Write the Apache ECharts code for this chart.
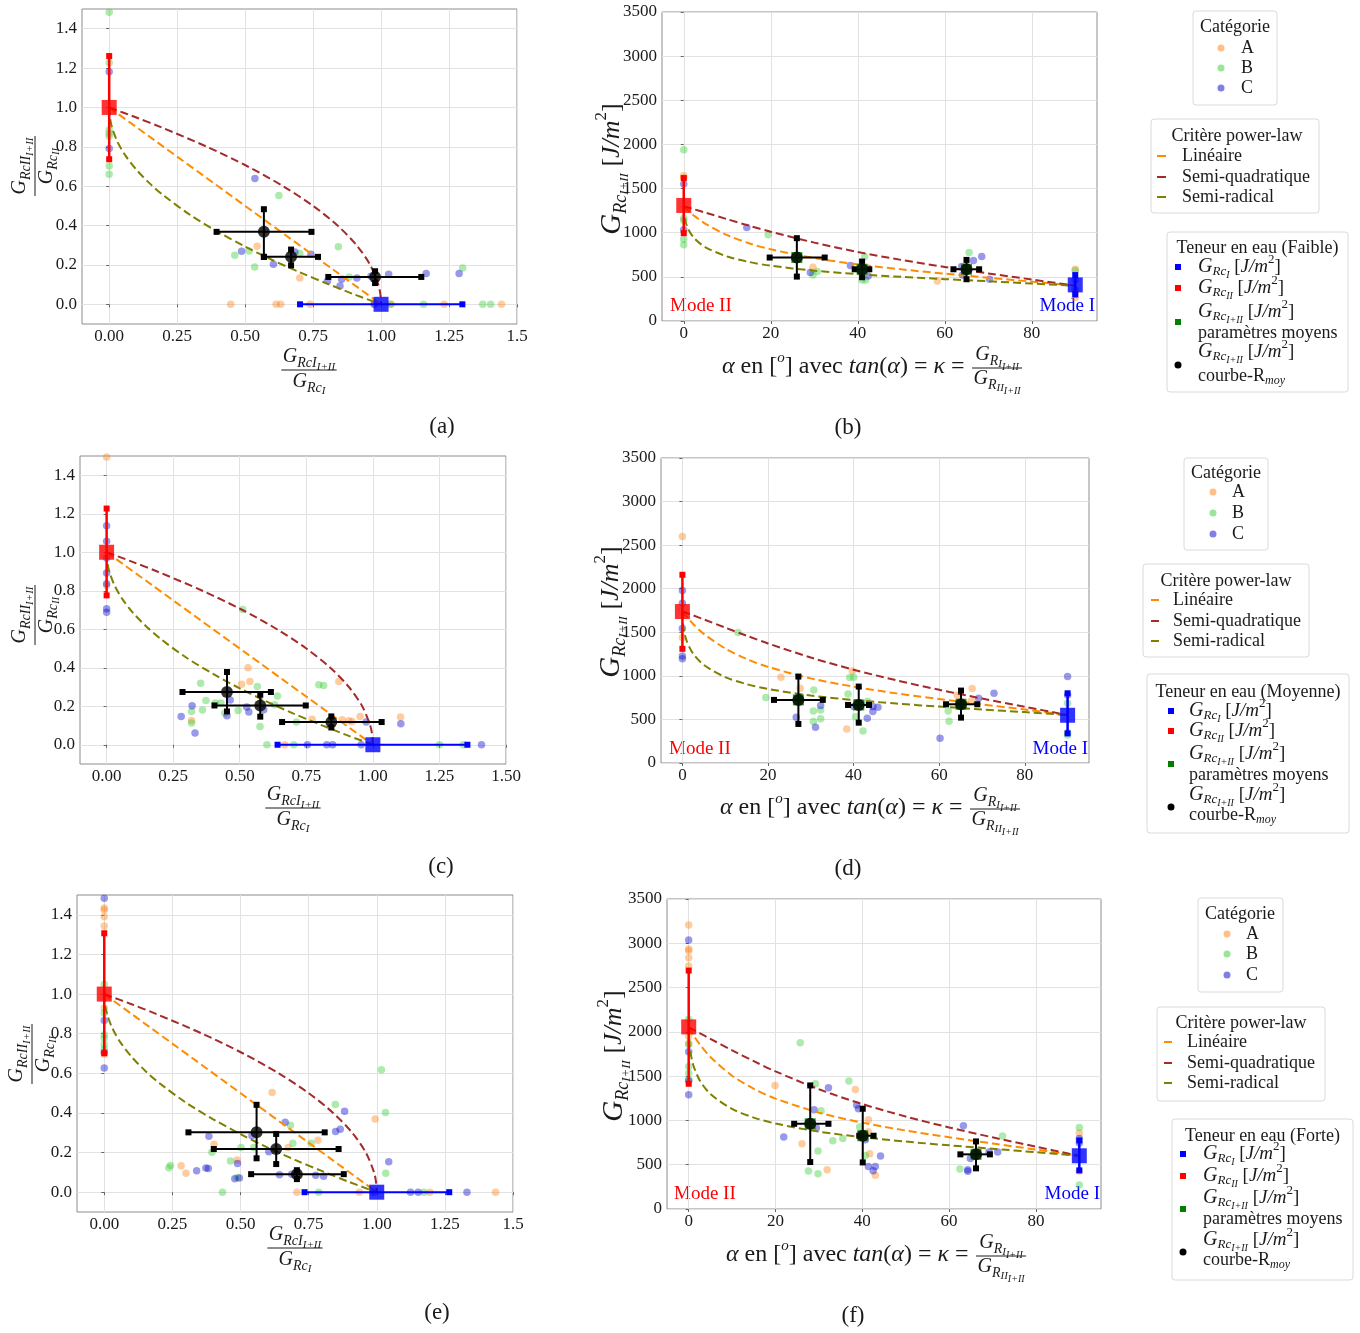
<!DOCTYPE html>
<html><head><meta charset="utf-8">
<script src="https://cdn.jsdelivr.net/npm/echarts@6/dist/echarts.min.js"></script>
<style>html,body{margin:0;padding:0;background:#fff}#c{width:1360px;height:1333px}</style>
</head><body><div id="c"></div>
<script>
// ---------------- DATA ----------------
// tick values / labels
const XTV_R = [0, 0.25, 0.5, 0.75, 1, 1.25, 1.5];
const XTL_a = ['0.00','0.25','0.50','0.75','1.00','1.25','1.5'];
const XTL_c = ['0.00','0.25','0.50','0.75','1.00','1.25','1.50'];
const XTL_e = ['0.00','0.25','0.50','0.75','1.00','1.25','1.5'];
const YTV_R = [0, 0.2, 0.4, 0.6, 0.8, 1.0, 1.2, 1.4];
const YTL_R = ['0.0','0.2','0.4','0.6','0.8','1.0','1.2','1.4'];
const XTV_A = [0, 20, 40, 60, 80];
const XTL_A = ['0','20','40','60','80'];
const YTV_A = [0, 500, 1000, 1500, 2000, 2500, 3000, 3500];
const YTL_A = ['0','500','1000','1500','2000','2500','3000','3500'];

// criterion curves, normalised plane
const LIN_R = [[0,1],[1,0]];
const SQ_R = [[0,1],[0.0975,0.95],[0.19,0.9],[0.36,0.8],[0.51,0.7],[0.64,0.6],[0.75,0.5],[0.84,0.4],[0.91,0.3],[0.96,0.2],[0.99,0.1],[0.9975,0.05],[1,0]];
const RAD_R = [[0,1],[0.002,0.955],[0.01,0.9],[0.03,0.827],[0.06,0.755],[0.1,0.684],[0.15,0.613],[0.2,0.553],[0.3,0.452],[0.4,0.368],[0.5,0.293],[0.6,0.225],[0.7,0.163],[0.8,0.106],[0.9,0.051],[1,0]];

// criterion curves vs alpha
const ALPHA = [0,0.25,1,2.5,5,10,15,20,30,40,50,60,70,80,90];
const LIN_b = [1300,1287,1252,1188,1101,972,881,812,713,641,585,536,491,446,400];
const SQ_b  = [1300,1297,1286,1264,1227,1153,1080,1011,888,782,692,612,539,470,400];
const RAD_b = [1300,1159,1043,933,835,730,669,626,570,531,500,474,450,424,400];
const LIN_d = [1740,1724,1678,1596,1482,1314,1194,1103,971,876,799,734,673,613,550];
const SQ_d  = [1740,1736,1722,1695,1648,1554,1461,1372,1210,1071,949,840,740,645,550];
const RAD_d = [1740,1554,1400,1255,1125,986,905,850,774,723,682,647,615,584,550];
const LIN_f = [2050,2029,1968,1862,1716,1505,1357,1246,1088,975,886,810,740,671,600];
const SQ_f  = [2050,2044,2025,1986,1921,1792,1669,1554,1352,1185,1044,921,809,704,600];
const RAD_f = [2050,1822,1635,1457,1299,1130,1032,965,873,811,761,719,680,641,600];

// mean points: [x, y, xlo, xhi, ylo, yhi]
const MEAN_a = [[0.569,0.368,0.395,0.744,0.241,0.483],[0.669,0.241,0.569,0.768,0.198,0.278],[0.978,0.139,0.806,1.148,0.108,0.168]];
const MEAN_c = [[0.452,0.274,0.285,0.617,0.173,0.378],[0.577,0.204,0.405,0.748,0.146,0.26],[0.844,0.118,0.659,1.033,0.09,0.147]];
const MEAN_e = [[0.559,0.302,0.309,0.809,0.171,0.441],[0.631,0.218,0.402,0.86,0.142,0.294],[0.707,0.091,0.539,0.879,0.066,0.111]];
const MEAN_b = [[26.0,719,19.75,32.4,503,938],[41.0,586,39.3,42.65,496,673],[65.0,586,62.0,67.9,473,692]];
const MEAN_d = [[27.1,724,21.4,32.8,448,992],[41.2,666,38.7,43.6,463,877],[65.1,674,61.6,68.9,521,831]];
const MEAN_f = [[28.0,962,24.3,32.2,530,1395],[40.1,827,39.3,42.6,526,1132],[66.2,617,62.6,69.4,459,763]];
// mode II (red) : [x, y, lo, hi] ; mode I (blue) : [x, y, lo, hi]
const RED_a = [0,1,0.737,1.261], BLUE_a = [1,0,0.702,1.299];
const RED_c = [0,1,0.776,1.227], BLUE_c = [1,0,0.642,1.355];
const RED_e = [0,1,0.701,1.307], BLUE_e = [1,0,0.735,1.266];
const RED_b = [0,1309,995,1619], BLUE_b = [90,409,300,520];
const RED_d = [0,1738,1310,2160], BLUE_d = [90,548,340,800];
const RED_f = [0,2056,1414,2692], BLUE_f = [90,601,436,774];

// individual specimens
const A_a = [[0.544,0.295],[0.701,0.134],[0.447,0],[0.614,0],[0.631,0],[0.739,0],[0.975,0],[1.037,0],[1.232,0],[1.443,0]];
const B_a = [[0,1.483],[0,1.227],[0,0.885],[0,0.868],[0,0.854],[0,0.703],[0,0.661],[0.624,0.553],[0.843,0.293],[0.462,0.249],[0.515,0.271],[0.535,0.19],[0.701,0.258],[0.883,0.139],[1.034,0],[1.156,0],[1.374,0],[1.403,0],[1.3,0.185]];
const C_a = [[0,1.181],[0,0.792],[0.536,0.639],[0.487,0.269],[0.604,0.203],[0.683,0.266],[0.742,0.254],[0.803,0.119],[0.849,0.093],[0.855,0.127],[0.911,0.134],[0.963,0.142],[1.028,0.153],[1.166,0.156],[1.287,0.156],[0.975,0]];
const A_b = [[0,1646],[0,1619],[29.7,609],[58.3,454],[90,586],[90,265],[90,314]];
const B_b = [[0,1941],[0,1139],[0,1165],[0,927],[0,863],[19.4,976],[29.7,522],[30.7,560],[41.6,730],[41.0,465],[41.8,465],[65.6,776],[90,571]];
const C_b = [[0,1551],[0,1033],[14.5,1059],[29.1,549],[38.3,628],[42.4,511],[63.9,617],[64.1,522],[66.6,685],[68.5,730],[70.3,473],[90,465],[90,352]];
const A_c = [[0,1.495],[0,0.827],[0.531,0.4],[0.538,0.328],[0.507,0.314],[0.319,0.126],[0.772,0.133],[0.872,0.329],[0.885,0.13],[0.922,0.121],[0.952,0.147],[1.104,0.144],[0.669,0],[0.91,0.125]];
const B_c = [[0.511,0.702],[0.797,0.312],[0.815,0.308],[0.353,0.319],[0.373,0.23],[0.36,0.18],[0.319,0.173],[0.319,0.113],[0.408,0.217],[0.429,0.217],[0.444,0.165],[0.494,0.178],[0.566,0.302],[0.642,0.253],[0.631,0.208],[0.576,0.095],[0.713,0.118],[0.602,0],[0.703,0],[1.25,0],[1.34,0]];
const C_c = [[0,1.138],[0,1.057],[0,0.97],[0,0.892],[0,0.837],[0,0.707],[0,0.688],[0.28,0.147],[0.321,0.203],[0.332,0.061],[0.464,0.232],[0.452,0.151],[0.526,0.196],[0.534,0.17],[0.59,0.182],[0.754,0],[0.827,0],[0.849,0],[0.956,0],[0.975,0.118],[1.105,0.109],[1.408,0]];
const A_d = [[0,2600],[0,1440],[23,984],[27.5,858],[39.7,1057],[38.4,391],[67.7,854],[64.2,777],[67.5,712]];
const B_d = [[13,1497],[19.5,751],[30.7,839],[30.6,597],[30.6,475],[32.3,609],[32.3,509],[39.1,980],[40,984],[38.7,793],[43.3,708],[40.5,532],[42.2,368],[62.1,597],[62.3,479],[90,348],[90,322],[90,685]];
const C_d = [[0,1980],[0,1834],[0,1543],[0,1229],[0,1195],[26.6,525],[32.3,659],[31.1,410],[40.1,647],[43.2,513],[44.5,647],[44.5,590],[45.7,640],[60.2,283],[69.2,743],[72.8,800],[90,992],[90,781]];
const A_e = [[0,1.434],[0,1.424],[0,1.39],[0,1.343],[0,0.698],[0,0.93],[0.616,0.503],[0.994,0.37],[0.784,0.262],[0.403,0.242],[0.282,0.133],[0.3,0.095],[0.488,0.162],[0.675,0.226],[0.707,0],[0.936,0],[1.195,0],[1.436,0]];
const B_e = [[0,1.049],[0,0.905],[0,0.795],[0,0.777],[0,0.746],[0,0.723],[1.017,0.618],[0.848,0.443],[1.032,0.402],[1.033,0.095],[0.683,0.338],[0.692,0.247],[0.759,0.247],[0.502,0.226],[0.549,0.226],[0.395,0.201],[0.463,0.157],[0.243,0.135],[0.237,0.123],[0.488,0.074],[0.434,0],[0.787,0],[1.173,0]];
const C_e = [[0,1.483],[0,0.866],[0,0.706],[0,0.627],[0.882,0.409],[0.866,0.318],[0.849,0.306],[0.664,0.353],[0.384,0.282],[0.542,0.285],[0.604,0.204],[1.044,0.154],[0.339,0.108],[0.373,0.122],[0.382,0.12],[0.489,0.145],[0.479,0.068],[0.496,0.071],[0.643,0.088],[0.688,0.091],[0.776,0.086],[0.805,0.081],[1.124,0],[1.152,0],[1.331,0],[0.987,0]];
const A_f = [[0,3207],[0,2936],[0,2917],[0,2838],[0,2744],[0,1947],[0,1872],[19.9,1395],[26.1,737],[31.9,444],[38.4,1350],[41.4,1008],[41.4,872],[41.7,624],[43,380],[90,857],[90,425]];
const B_f = [[0,2143],[0,1857],[0,1609],[0,1534],[0,1459],[25.7,1876],[29.2,1414],[30.5,1109],[29.8,654],[27.6,429],[29.8,398],[33.2,771],[35.5,797],[36.9,1444],[39.4,925],[40.7,605],[62.5,451],[72.3,823],[90,921],[90,271]];
const C_f = [[0,3038],[0,1774],[0,1447],[0,1289],[21.9,812],[28.9,1120],[29.4,914],[32.2,1368],[38.7,1173],[39.1,1132],[40.7,782],[41.4,481],[42.5,432],[43,481],[44.2,598],[63.3,940],[64.3,444],[64.3,425],[64.9,571],[69.2,643],[71.2,643],[90,797],[90,744]];

const MODE_LABELS = ['Mode II', 'Mode I'];
const LEGEND_TITLES = ['Teneur en eau (Faible)', 'Teneur en eau (Moyenne)', 'Teneur en eau (Forte)'];
const PANEL_TAGS = ['(a)','(b)','(c)','(d)','(e)','(f)'];

// ---------------- STYLE / LAYOUT ----------------
const FF = 'Liberation Serif';
const TXT = '#1a1a1a';
const COL_A = 'rgba(255,127,14,0.5)', COL_B = 'rgba(50,205,50,0.5)', COL_C = 'rgba(0,0,205,0.5)';
const COL_LIN = '#ff8c00', COL_SQ = '#a52a2a', COL_RAD = '#808000';

const GRIDS = [
  {left:82, top:9, width:435, height:315},
  {left:662, top:12, width:435, height:309},
  {left:80, top:456, width:426, height:308},
  {left:661, top:458, width:428, height:305},
  {left:77, top:895, width:436, height:317},
  {left:667, top:899, width:434, height:310}
];

const zip = (xs, ys) => xs.map((x, i) => [x, ys[i]]);
const PANELS = [
  {kind:'R', A:A_a, B:B_a, C:C_a, mean:MEAN_a, red:RED_a, blue:BLUE_a, xl:XTL_a},
  {kind:'A', A:A_b, B:B_b, C:C_b, mean:MEAN_b, red:RED_b, blue:BLUE_b, lin:LIN_b, sq:SQ_b, rad:RAD_b},
  {kind:'R', A:A_c, B:B_c, C:C_c, mean:MEAN_c, red:RED_c, blue:BLUE_c, xl:XTL_c},
  {kind:'A', A:A_d, B:B_d, C:C_d, mean:MEAN_d, red:RED_d, blue:BLUE_d, lin:LIN_d, sq:SQ_d, rad:RAD_d},
  {kind:'R', A:A_e, B:B_e, C:C_e, mean:MEAN_e, red:RED_e, blue:BLUE_e, xl:XTL_e},
  {kind:'A', A:A_f, B:B_f, C:C_f, mean:MEAN_f, red:RED_f, blue:BLUE_f, lin:LIN_f, sq:SQ_f, rad:RAD_f}
];

function lab(vals, labels) {
  return v => { const k = vals.findIndex(t => Math.abs(t - v) < 1e-9); return k >= 0 ? labels[k] : ''; };
}
const grid = [], xAxis = [], yAxis = [], series = [];
PANELS.forEach((p, i) => {
  grid.push(Object.assign({show:true, borderColor:'#8c8c8c', borderWidth:1, backgroundColor:'transparent'}, GRIDS[i]));
  const R = p.kind === 'R';
  const xv = R ? XTV_R : XTV_A, xl = R ? p.xl : XTL_A;
  const yv = R ? YTV_R : YTV_A, yl = R ? YTL_R : YTL_A;
  const common = {
    type:'value', gridIndex:i,
    axisLine:{show:false},
    splitLine:{show:true, lineStyle:{color:'#e2e2e2', width:1}}
  };
  xAxis.push(Object.assign({}, common, {
    min: R ? -0.1 : -5, max: R ? 1.5 : 95,
    axisTick:{show:true, length:3, lineStyle:{color:'#666'}, customValues:xv},
    axisLabel:{customValues:xv, formatter:lab(xv, xl), fontFamily:FF, fontSize:17, color:TXT, margin:4}
  }));
  yAxis.push(Object.assign({}, common, {
    min: R ? -0.1 : 0, max: R ? 1.5 : 3500,
    axisTick:{show:true, length:3, lineStyle:{color:'#666'}, customValues:yv},
    axisLabel:{customValues:yv, formatter:lab(yv, yl), fontFamily:FF, fontSize:17, color:TXT, margin:5}
  }));
  const ax = {xAxisIndex:i, yAxisIndex:i, silent:true, animation:false};
  // specimens
  [[p.A, COL_A], [p.B, COL_B], [p.C, COL_C]].forEach(([d, c]) => {
    series.push(Object.assign({type:'scatter', data:d, symbolSize:7.5, itemStyle:{color:c}, z:2}, ax));
  });
  // curves
  const curves = R ? [[LIN_R, COL_LIN], [SQ_R, COL_SQ], [RAD_R, COL_RAD]]
                   : [[zip(ALPHA, p.lin), COL_LIN], [zip(ALPHA, p.sq), COL_SQ], [zip(ALPHA, p.rad), COL_RAD]];
  curves.forEach(([d, c]) => {
    series.push(Object.assign({type:'line', data:d, showSymbol:false, smooth:0.3,
      lineStyle:{color:c, width:2, type:[8,4]}, z:3}, ax));
  });
  // error bars
  const bar = (d, c, w) => series.push(Object.assign({type:'line', data:d, symbol:'rect', symbolSize:6, showSymbol:true,
      lineStyle:{color:c, width:w}, itemStyle:{color:c}, z:4}, ax));
  p.mean.forEach(m => {
    bar([[m[2], m[1]], [m[3], m[1]]], '#000', 2);
    bar([[m[0], m[4]], [m[0], m[5]]], '#000', 2);
  });
  bar([[p.red[0], p.red[2]], [p.red[0], p.red[3]]], '#ff0000', 2.5);
  if (R) bar([[p.blue[2], p.blue[1]], [p.blue[3], p.blue[1]]], '#0000ff', 2);
  else bar([[p.blue[0], p.blue[2]], [p.blue[0], p.blue[3]]], '#0000ff', 2.5);
  // centre markers
  const pts = p.mean.map(m => [m[0], m[1]]);
  if (!R) series.push(Object.assign({type:'scatter', data:pts, symbol:'rect', symbolSize:11, itemStyle:{color:'#007f00'}, z:5}, ax));
  series.push(Object.assign({type:'scatter', data:pts, symbol:'circle', symbolSize:12, itemStyle:{color:'#000'}, z:6}, ax));
  series.push(Object.assign({type:'scatter', data:[[p.red[0], p.red[1]]], symbol:'rect', symbolSize:15, itemStyle:{color:'#ff0000'}, z:6}, ax));
  series.push(Object.assign({type:'scatter', data:[[p.blue[0], p.blue[1]]], symbol:'rect', symbolSize:15, itemStyle:{color:'#0000ff'}, z:6}, ax));
});

// ---------------- TEXT HELPERS ----------------
const mctx = document.createElement('canvas').getContext('2d');
function measure(t, size, it) { mctx.font = (it ? 'italic ' : '') + size + 'px "Liberation Serif"'; return mctx.measureText(t).width; }
function txt(t, x, y, size, align, color, it) {
  return {type:'text', x, y, silent:true, style:{text:t, fontSize:size, fontFamily:FF, fontStyle: it ? 'italic' : 'normal',
    fill:color || TXT, align:align || 'left', verticalAlign:'middle'}};
}
function row(pieces) {
  let x = 0; const kids = [];
  pieces.forEach(([t, size, dy, it]) => {
    kids.push(txt(t, x, dy, size, 'left', TXT, it));
    x += measure(t, size, it);
  });
  return {kids, w:x};
}
function mathText(pieces, x, y, align, rot) {
  const r = row(pieces);
  const off = align === 'center' ? -r.w / 2 : align === 'right' ? -r.w : 0;
  r.kids.forEach(k => k.x += off);
  return {type:'group', x, y, rotation:rot || 0, silent:true, children:r.kids};
}
function frac(num, den, x, y, rot, gN, gD) {
  const n = row(num), d = row(den); const w = Math.max(n.w, d.w) + 3;
  n.kids.forEach(k => { k.x += -n.w / 2; k.y += -gN; });
  d.kids.forEach(k => { k.x += -d.w / 2; k.y += gD; });
  return {type:'group', x, y, rotation:rot || 0, silent:true, children: n.kids.concat(d.kids).concat([
    {type:'line', shape:{x1:-w/2, y1:0, x2:w/2, y2:0}, style:{stroke:TXT, lineWidth:1}}])};
}

const G = [];
// ratio-panel axis titles
const RX_NUM = [['G',20,0,1],['Rc',14,6,1],['I',14,6,1],['I+II',11,10,1]];
const RX_DEN = [['G',20,0,1],['Rc',14,6,1],['I',11,9,1]];
const RY_NUM = [['G',20,0,1],['Rc',14,6,1],['II',14,6,1],['I+II',11,10,1]];
const RY_DEN = [['G',20,0,1],['Rc',14,6,1],['II',11,9,1]];
[[309,370],[293,808],[295,1248]].forEach(([x,y]) => G.push(frac(RX_NUM, RX_DEN, x, y, 0, 13, 12)));
[[35,166],[35,615],[32,1054]].forEach(([x,y]) => G.push(frac(RY_NUM, RY_DEN, x, y, Math.PI/2, 15, 12)));
// alpha-panel axis titles
const AY = [['G',29,0,1],['Rc',18,9,1],['I+II',13,13,1],[' [',26,0,0],['J/m',26,0,1],['2',17,-10,0],[']',26,0,0]];
[[612,169],[611,612],[614,1056]].forEach(([x,y]) => G.push(mathText(AY, x, y, 'center', Math.PI/2)));
const AX = [['α',24,0,1],[' en [',24,0,0],['o',15,-9,1],['] avec ',24,0,0],['tan',24,0,1],['(',24,0,0],['α',24,0,1],[')',24,0,0],[' = ',24,0,0],['κ',24,0,1],[' = ',24,0,0]];
const AF_NUM = [['G',20,0,1],['R',14,6,1],['I',11,9,1],['I+II',10,12,1]];
const AF_DEN = [['G',20,0,1],['R',14,6,1],['II',11,9,1],['I+II',10,12,1]];
[[722,367],[720,808],[726,1255]].forEach(([x,y]) => {
  const w = row(AX).w;
  G.push(mathText(AX, x, y, 'left', 0));
  const fw = Math.max(row(AF_NUM).w, row(AF_DEN).w);
  G.push(frac(AF_NUM, AF_DEN, x + w + fw/2 + 3, y + 1, 0, 13, 11));
});
// mode labels
[[670,306,1095],[669,749,1088],[674,1194,1100]].forEach(([xl,y,xr]) => {
  G.push(txt(MODE_LABELS[0], xl, y, 19, 'left', '#ff0000'));
  G.push(txt(MODE_LABELS[1], xr, y, 19, 'right', '#0000ff'));
});
// panel tags
[[442,427],[848,428],[441,867],[848,869],[437,1313],[853,1316]].forEach(([x,y], i) => G.push(txt(PANEL_TAGS[i], x, y, 23, 'center')));

// legends
const LEG = [
 {cat:{x:1193,y:11,w:84,h:94,tY:27,tX:1235,ys:[48,68,88],mx:1221,tx:1241},
  crit:{x:1151,y:119,w:168,h:94,tY:136,tX:1237,ys:[156,177,197],mx1:1157,mx2:1166,tx:1182},
  ten:{x:1167,y:232,w:181,h:160,tY:248,mx:1178,tx:1198,ys:[267,288,322,365],g2:[312,333],k2:[352,376]}},
 {cat:{x:1184,y:458,w:84,h:92,tY:473,tX:1226,ys:[492,513,534],mx:1213,tx:1232},
  crit:{x:1143,y:564,w:166,h:93,tY:581,tX:1226,ys:[600,621,641],mx1:1151,mx2:1159,tx:1173},
  ten:{x:1147,y:674,w:202,h:159,tY:692,mx:1171,tx:1189,ys:[711,731,764,807],g2:[754,775],k2:[795,815]}},
 {cat:{x:1198,y:898,w:85,h:94,tY:914,tX:1240,ys:[934,954,975],mx:1227,tx:1246},
  crit:{x:1157,y:1007,w:168,h:94,tY:1023,tX:1241,ys:[1042,1063,1083],mx1:1164,mx2:1172,tx:1187},
  ten:{x:1172,y:1119,w:181,h:161,tY:1136,mx:1183,tx:1203,ys:[1154,1176,1209,1252],g2:[1198,1219],k2:[1240,1260]}}
];
const box = b => ({type:'rect', silent:true, shape:{x:b.x, y:b.y, width:b.w, height:b.h, r:3}, style:{fill:'#fff', stroke:'#dadada', lineWidth:1}});
const UNIT = [[' [',19,0,0],['J/m',19,0,1],['2',13,-7,0],[']',19,0,0]];
LEG.forEach((L, r) => {
  const c = L.cat;
  G.push(box(c));
  G.push(txt('Catégorie', c.tX, c.tY, 18, 'center'));
  [['A',COL_A],['B',COL_B],['C',COL_C]].forEach(([t,col], k) => {
    G.push({type:'circle', silent:true, shape:{cx:c.mx, cy:c.ys[k], r:3.5}, style:{fill:col}});
    G.push(txt(t, c.tx, c.ys[k], 18, 'left'));
  });
  const q = L.crit;
  G.push(box(q));
  G.push(txt('Critère power-law', q.tX, q.tY, 18, 'center'));
  [['Linéaire',COL_LIN],['Semi-quadratique',COL_SQ],['Semi-radical',COL_RAD]].forEach(([t,col], k) => {
    G.push({type:'line', silent:true, shape:{x1:q.mx1, y1:q.ys[k], x2:q.mx2, y2:q.ys[k]}, style:{stroke:col, lineWidth:2}});
    G.push(txt(t, q.tx, q.ys[k], 18, 'left'));
  });
  const T = L.ten;
  G.push(box(T));
  G.push(txt(LEGEND_TITLES[r], T.x + T.w/2, T.tY, 18, 'center'));
  const sq = (y, col) => G.push({type:'rect', silent:true, shape:{x:T.mx-3, y:y-3, width:6, height:6}, style:{fill:col}});
  sq(T.ys[0], '#0000ff');
  G.push(mathText([['G',20,0,1],['Rc',13,5,1],['I',10,8,1]].concat(UNIT), T.tx, T.ys[0], 'left'));
  sq(T.ys[1], '#ff0000');
  G.push(mathText([['G',20,0,1],['Rc',13,5,1],['II',10,8,1]].concat(UNIT), T.tx, T.ys[1], 'left'));
  sq(T.ys[2], '#007f00');
  G.push(mathText([['G',20,0,1],['Rc',13,5,1],['I+II',10,8,1]].concat(UNIT), T.tx, T.g2[0], 'left'));
  G.push(txt('paramètres moyens', T.tx, T.g2[1], 18, 'left'));
  G.push({type:'circle', silent:true, shape:{cx:T.mx, cy:T.ys[3], r:3.5}, style:{fill:'#000'}});
  G.push(mathText([['G',20,0,1],['Rc',13,5,1],['I+II',10,8,1]].concat(UNIT), T.tx, T.k2[0], 'left'));
  G.push(mathText([['courbe-R',18,0,0],['moy',12,5,1]], T.tx, T.k2[1], 'left'));
});

const chart = echarts.init(document.getElementById('c'), null, {renderer:'canvas'});
chart.setOption({animation:false, backgroundColor:'#fff', grid, xAxis, yAxis, series, graphic:{elements:G}});
</script>
</body></html>
